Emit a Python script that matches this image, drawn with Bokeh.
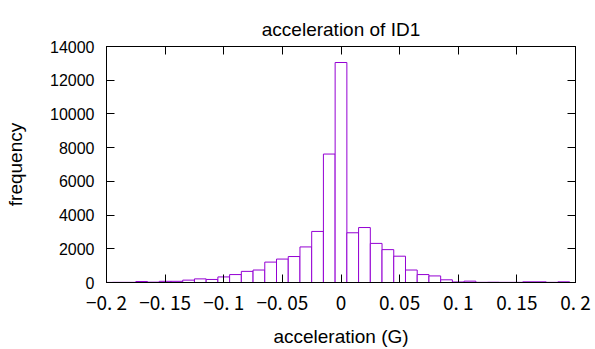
from bokeh.plotting import figure
from bokeh.models import LinearAxis, FixedTicker, CustomJSTickFormatter
from bokeh.embed import file_html
from bokeh.resources import INLINE

# bin centres (G) and counts
bin_centers = [-0.20, -0.19, -0.18, -0.17, -0.16, -0.15, -0.14, -0.13, -0.12, -0.11,
               -0.10, -0.09, -0.08, -0.07, -0.06, -0.05, -0.04, -0.03, -0.02, -0.01,
               0.00, 0.01, 0.02, 0.03, 0.04, 0.05, 0.06, 0.07, 0.08, 0.09,
               0.10, 0.11, 0.12, 0.13, 0.14, 0.15, 0.16, 0.17, 0.18, 0.19, 0.20]
counts = [5, 10, 10, 60, 20, 70, 70, 140, 215, 180,
          330, 470, 660, 740, 1210, 1390, 1540, 2110, 3030, 7620,
          13050, 2950, 3260, 2320, 1950, 1560, 740, 470, 390, 160,
          30, 80, 10, 15, 10, 10, 40, 40, 10, 40, 0]
bin_width = 0.01

x_ticks = [-0.2, -0.15, -0.1, -0.05, 0.0, 0.05, 0.1, 0.15, 0.2]
x_tick_labels = ["\u22120. 2", "\u22120. 15", "\u22120. 1", "\u22120. 05", "0",
                 "0. 05", "0. 1", "0. 15", "0. 2"]
y_ticks = [0, 2000, 4000, 6000, 8000, 10000, 12000, 14000]

title_text = "acceleration of ID1"
x_label = "acceleration (G)"
y_label = "frequency"

BAR = "#9400D3"
LATIN = "Liberation Sans"
JP = "Noto Sans CJK JP"

p = figure(width=595, height=349, x_range=(-0.2, 0.2), y_range=(0, 14000),
           output_backend="svg", toolbar_location=None,
           min_border_left=106, min_border_right=20, min_border_top=46,
           min_border_bottom=64, title=title_text)

left = [c - bin_width / 2 for c in bin_centers]
right = [c + bin_width / 2 for c in bin_centers]
p.quad(left=left, right=right, bottom=0, top=counts,
       fill_color="white", line_color=BAR, line_width=1)

p.grid.visible = False
p.outline_line_color = "black"
p.outline_line_width = 1
p.background_fill_color = "white"
p.border_fill_color = "white"

p.title.text_font = LATIN
p.title.text_font_size = "19px"
p.title.text_font_style = "normal"
p.title.align = "center"
p.title.text_color = "black"
p.title.offset = 0
p.title.standoff = 14

xax = p.xaxis[0]
xax.ticker = FixedTicker(ticks=x_ticks)
xax.major_label_overrides = {t: l for t, l in zip(x_ticks, x_tick_labels)}
xax.major_label_text_font = JP
xax.major_label_text_font_size = "19px"
xax.axis_label = x_label
xax.axis_label_text_font = LATIN
xax.axis_label_text_font_size = "19px"
xax.axis_label_text_font_style = "normal"
xax.axis_label_standoff = 8

yax = p.yaxis[0]
yax.ticker = FixedTicker(ticks=y_ticks)
yax.major_label_text_font = LATIN
yax.major_label_text_font_size = "16px"
yax.axis_label = y_label
yax.axis_label_text_font = LATIN
yax.axis_label_text_font_size = "19px"
yax.axis_label_text_font_style = "normal"
yax.axis_label_standoff = 21

blank = CustomJSTickFormatter(code="return ''")
top_ax = LinearAxis(ticker=FixedTicker(ticks=x_ticks), formatter=blank)
right_ax = LinearAxis(ticker=FixedTicker(ticks=y_ticks), formatter=blank)
p.add_layout(top_ax, "above")
p.add_layout(right_ax, "right")

for ax in [xax, yax, top_ax, right_ax]:
    ax.major_tick_in = 8
    ax.major_tick_out = 0
    ax.minor_tick_line_color = None
    ax.axis_line_color = "black"
    ax.major_tick_line_color = "black"
    ax.major_label_text_color = "black"
    ax.axis_label_text_color = "black"
for ax in [top_ax, right_ax]:
    ax.major_label_standoff = 0
    ax.major_label_text_font_size = "1px"

xax.major_label_standoff = 5
yax.major_label_standoff = 12

open("out.html", "w").write(file_html(p, INLINE))
